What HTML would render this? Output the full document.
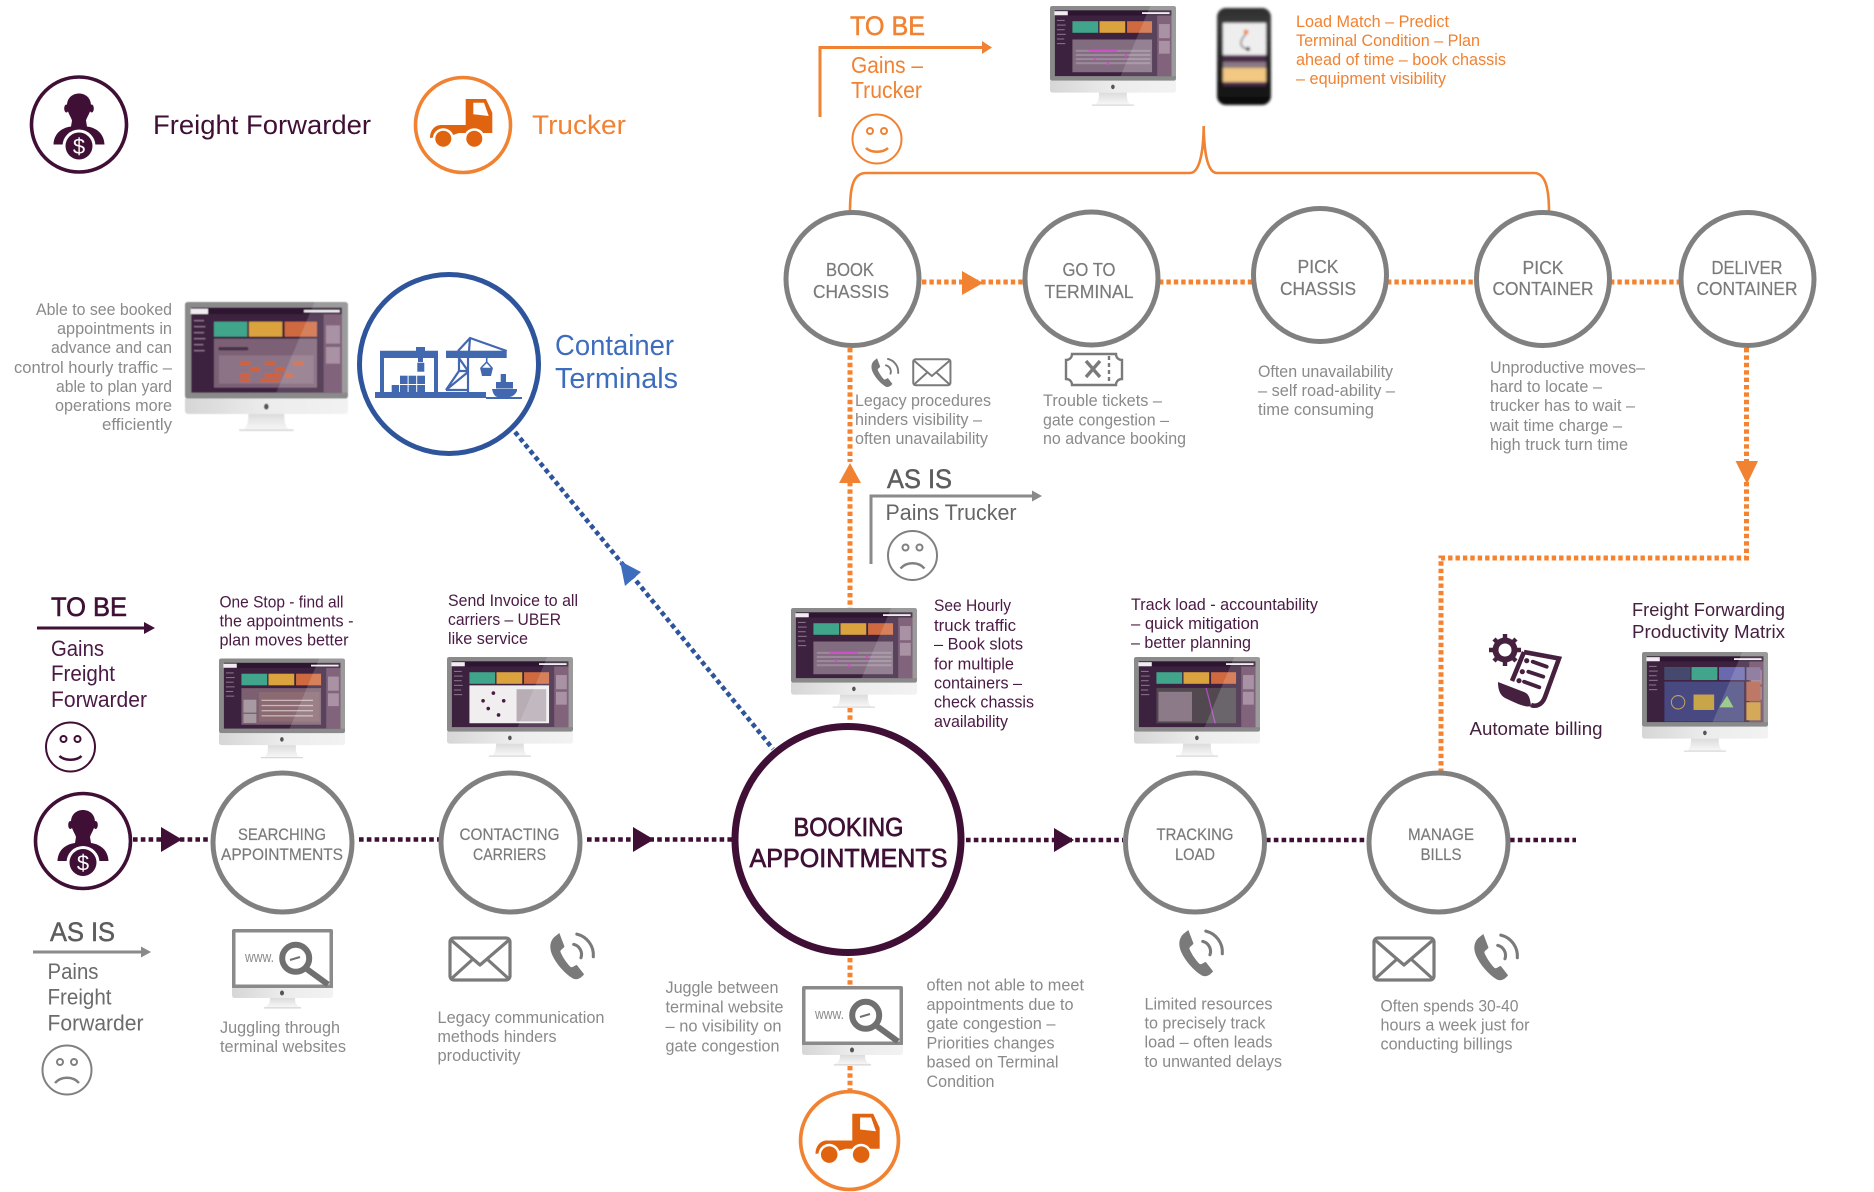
<!DOCTYPE html>
<html lang="en">
<head>
<meta charset="utf-8">
<title>Booking Appointments Journey</title>
<style>
html,body{margin:0;padding:0;background:#fff;width:1874px;height:1192px;overflow:hidden}
svg{display:block}
text{font-family:"Liberation Sans",sans-serif}
.g{fill:#8a8a8a;font-size:16.5px}
.p{fill:#4a1a44;font-size:16.5px}
.o{fill:#f08232;font-size:16.5px}
.n{fill:#7a7a7a;font-size:18.5px;text-anchor:middle;stroke:#7a7a7a;stroke-width:.2}
.n2{fill:#7a7a7a;font-size:17px;text-anchor:middle;stroke:#7a7a7a;stroke-width:.2}
.ring{fill:#fff;stroke:#808080;stroke-width:5}
.dp{fill:none;stroke:#3f0f35;stroke-width:4.6;stroke-dasharray:4.6 3.2}
.do{fill:none;stroke:#f5822f;stroke-width:5;stroke-dasharray:4.4 3}
.fa{fill:none;stroke:#f08232}
</style>
</head>
<body>
<svg width="1874" height="1192" viewBox="0 0 1874 1192" xmlns="http://www.w3.org/2000/svg">
<defs>
  <filter id="soft" x="-5%" y="-5%" width="110%" height="110%"><feGaussianBlur stdDeviation="1.3"/></filter>
  <linearGradient id="chin" x1="0" x2="1" y1="0" y2="0"><stop offset="0" stop-color="#d6d6d6"/><stop offset=".5" stop-color="#ececec"/><stop offset="1" stop-color="#f2f2f2"/></linearGradient>
  <linearGradient id="stand" x1="0" x2="0" y1="0" y2="1"><stop offset="0" stop-color="#dcdcdc"/><stop offset="1" stop-color="#f6f6f6"/></linearGradient>
  <linearGradient id="ph" x1="0" x2="0" y1="0" y2="1"><stop offset="0" stop-color="#2c2c2c"/><stop offset=".15" stop-color="#3a3a3a"/><stop offset="1" stop-color="#0d0d0d"/></linearGradient>
  <g id="mon">
    <rect x="0" y="0" width="489" height="290" rx="8" fill="#8a8a8a"/>
    <path d="M0 290H489V326Q489 336 479 336H10Q0 336 0 326Z" fill="url(#chin)"/>
    <path d="M190 336H298C298 360 300 372 312 382H176C188 372 190 360 190 336Z" fill="url(#stand)"/>
    <rect x="162" y="382" width="164" height="5" rx="2" fill="#d8d8d8"/>
    <ellipse cx="244" cy="314" rx="7" ry="9" fill="#555"/>
    <rect x="19" y="17" width="452" height="255" fill="#3d2240"/>
    <rect x="19" y="17" width="452" height="20" fill="#2e1831"/>
    <rect x="416" y="37" width="55" height="235" fill="#6b4864"/>
    <rect x="17" y="20" width="52" height="16" fill="#f1ecf0"/>
    <rect x="357" y="24" width="107" height="7" fill="#f0eef0"/>
    <rect x="27" y="54" width="30" height="4" fill="#8a7589"/><rect x="27" y="72" width="34" height="4" fill="#8a7589"/><rect x="27" y="90" width="30" height="4" fill="#8a7589"/><rect x="27" y="108" width="34" height="4" fill="#8a7589"/><rect x="27" y="126" width="28" height="4" fill="#8a7589"/><rect x="27" y="144" width="32" height="4" fill="#8a7589"/>
    <rect x="423" y="70" width="42" height="55" fill="#9a7f95"/><rect x="423" y="135" width="42" height="50" fill="#9a7f95"/>
    <rect x="87" y="59" width="100" height="45" fill="#3fa58a"/>
    <rect x="192" y="59" width="100" height="45" fill="#dba33c"/>
    <rect x="299" y="59" width="97" height="45" fill="#cf6a3f"/>
  </g>
  <polygon id="glare" points="389,0 489,0 489,272 274,272" fill="#fff" opacity=".15"/>
  <g id="ff">
    <circle r="47.5" fill="#fff" stroke="#3f0f35" stroke-width="3.6"/>
    <ellipse cx="-12.6" cy="-16" rx="2.2" ry="4" fill="#3f0f35"/><ellipse cx="12.6" cy="-16" rx="2.2" ry="4" fill="#3f0f35"/>
    <path d="M-12-19C-12-27-6-31 0-31C6-31 12-27 12-19C12-12 8-8 7-4L8 2C16 3 25 8 25.5 20H-25.5C-25 8-16 3-8 2L-7-4C-8-8-12-12-12-19Z" fill="#3f0f35"/>
    <circle cy="21.5" r="16.5" fill="#fff"/>
    <circle cy="21.5" r="13.5" fill="#3f0f35"/>
    <text x="0" y="29.5" text-anchor="middle" style="font-size:22px" fill="#fff">$</text>
  </g>
  <g id="truck">
    <circle r="47.5" fill="#fff" stroke="#f08232" stroke-width="3.6"/>
    <path d="M2.7-26H23L29.3-12.3V8H-4L-10 10L-33 13C-33 5-28 0-22 0H2.7Z" fill="#e0640f"/>
    <path d="M10.3-22.3H21L25.7-9L10.3-10.7Z" fill="#fff"/>
    <circle cx="-19.7" cy="13.7" r="10.5" fill="#fff"/><circle cx="11.3" cy="13.7" r="10.5" fill="#fff"/>
    <circle cx="-19.7" cy="13.7" r="8" fill="#e0640f"/><circle cx="11.3" cy="13.7" r="8" fill="#e0640f"/>
  </g>
  <g id="phone">
    <path d="M6 6C2 10 1 16 4 23C8 32 16 41 24 46C28 48 32 46 35 42L28 33C26 33 24 36 22 35C18 31 14 25 12 20C12 18 15 17 16 15L11 2Z" fill="#7a7a7a"/>
    <path d="M25 13A10 10 0 0 1 32 26M28 3A21 21 0 0 1 44 25" fill="none" stroke="#7a7a7a" stroke-width="3" stroke-linecap="round"/>
  </g>
  <g id="mail" fill="none" stroke="#7a7a7a" stroke-width="3.2" stroke-linejoin="round">
    <rect x="2" y="2" width="60" height="42" rx="4"/>
    <path d="M3 4L32 29L61 4M3 43L25 23M61 43L39 23"/>
  </g>
  <g id="www">
    <rect x="0" y="0" width="101" height="60" rx="2" fill="#8a8a8a"/>
    <rect x="3.5" y="3.5" width="94" height="52" fill="#fff"/>
    <path d="M0 59H101V66Q101 69 98 69H3Q0 69 0 66Z" fill="url(#chin)"/>
    <path d="M38 69H63C63 74 64 76 68 78H33C37 76 38 74 38 69Z" fill="url(#stand)"/>
    <rect x="32" y="78" width="37" height="1.6" fill="#ddd"/>
    <ellipse cx="50" cy="64" rx="2" ry="2.5" fill="#555"/>
    <text x="13" y="33" style="font-size:15px" fill="#8a8a8a" textLength="29" lengthAdjust="spacingAndGlyphs">www.</text>
    <path d="M72 38L96 55.5" stroke="#707070" stroke-width="6"/>
    <circle cx="63.7" cy="29.3" r="13.5" fill="#fff" stroke="#707070" stroke-width="6"/>
    <path d="M58 31L68 28" stroke="#707070" stroke-width="2"/>
  </g>
  <g id="smile" fill="none" stroke-width="2">
    <circle r="24.5"/><circle cx="-7" cy="-8" r="3"/><circle cx="7" cy="-8" r="3"/>
    <path d="M-11 9C-6 14 6 14 11 9" stroke-width="2.6"/>
  </g>
  <g id="frown" fill="none" stroke="#808080" stroke-width="2">
    <circle r="24.5"/><circle cx="-7" cy="-8" r="3"/><circle cx="7" cy="-8" r="3"/>
    <path d="M-12 13C-6 6 6 6 12 13" stroke-width="2.4"/>
  </g>
</defs>

<!-- Legend -->
<use href="#ff" transform="translate(79,124.5)"/>
<text x="153" y="134" style="font-size:27px" fill="#3f0f35" textLength="218" lengthAdjust="spacingAndGlyphs">Freight Forwarder</text>
<use href="#truck" transform="translate(463,125)"/>
<text x="532" y="134" style="font-size:27px" fill="#f08232" textLength="94" lengthAdjust="spacingAndGlyphs">Trucker</text>

<!-- Container terminals -->
<g class="g" text-anchor="end">
<text x="172" y="315" textLength="136" lengthAdjust="spacingAndGlyphs">Able to see booked</text>
<text x="172" y="334" textLength="115" lengthAdjust="spacingAndGlyphs">appointments in</text>
<text x="172" y="353" textLength="121" lengthAdjust="spacingAndGlyphs">advance and can</text>
<text x="172" y="373" textLength="158" lengthAdjust="spacingAndGlyphs">control hourly traffic –</text>
<text x="172" y="392" textLength="116" lengthAdjust="spacingAndGlyphs">able to plan yard</text>
<text x="172" y="411" textLength="117" lengthAdjust="spacingAndGlyphs">operations more</text>
<text x="172" y="430" textLength="70" lengthAdjust="spacingAndGlyphs">efficiently</text>
</g>
<g transform="translate(185,302) scale(.3333)" filter="url(#soft)">
  <use href="#mon"/>
  <rect x="87" y="110" width="309" height="147" fill="#7b6074"/>
  <rect x="100" y="135" width="90" height="10" rx="5" fill="#4a3248"/>
  <rect x="102" y="160" width="284" height="85" fill="#8c7385"/>
  <g fill="#d2613a"><rect x="165" y="178" width="30" height="12"/><rect x="240" y="178" width="30" height="12"/><rect x="325" y="178" width="30" height="12"/><rect x="195" y="196" width="30" height="12"/><rect x="270" y="196" width="30" height="12"/><rect x="165" y="214" width="30" height="12"/><rect x="240" y="214" width="50" height="12"/><rect x="300" y="214" width="25" height="12"/><rect x="165" y="230" width="30" height="10"/><rect x="225" y="230" width="60" height="10"/></g>
  <use href="#glare"/>
</g>
<circle cx="449" cy="364" r="89.5" fill="#fff" stroke="#2e549c" stroke-width="5"/>
<g fill="#4268b0">
  <rect x="375" y="392" width="111" height="6"/><rect x="486" y="397" width="36" height="2"/>
  <path d="M380 350.7H438V392H434V358H384V392H380Z"/>
  <rect x="416" y="347" width="9" height="5"/><rect x="418" y="358" width="5" height="4"/><rect x="417.3" y="362.7" width="7" height="9"/>
  <rect x="400" y="375.7" width="7.6" height="8.3"/><rect x="408.6" y="375.7" width="7.6" height="8.3"/><rect x="417.2" y="375.7" width="7.8" height="8.3"/>
  <rect x="391.7" y="385" width="7.4" height="7"/><rect x="400" y="385" width="7.6" height="7"/><rect x="408.6" y="385" width="7.6" height="7"/><rect x="417.2" y="385" width="7.8" height="7"/>
  <rect x="446" y="350.7" width="60.7" height="7.3"/>
  <path d="M480 367.7H493L491 376H482Z"/>
  <path d="M492 389H517V391C515 395 512 397 509 397H498C495 397 493 394 492 389Z"/>
  <rect x="496" y="382" width="17" height="6.5"/><rect x="500.7" y="374" width="5.3" height="8"/>
</g>
<g fill="none" stroke="#4268b0" stroke-width="2.2">
  <path d="M458 351L470 338L506.7 351M470 338L469 351"/>
  <path d="M459 358L468 371M468 358V392M459 358V371L446 390M459 371H468L468 392M446 390H468M446 390L468 372"/>
  <path d="M486.7 358V362M486.7 362L481 368M486.7 362L492 368" stroke-width="1.6"/>
</g>
<text x="555" y="355" style="font-size:29px" fill="#3e6dbe" textLength="119" lengthAdjust="spacingAndGlyphs">Container</text>
<text x="555" y="388" style="font-size:29px" fill="#3e6dbe" textLength="123" lengthAdjust="spacingAndGlyphs">Terminals</text>

<!-- Blue dotted connector -->
<path d="M515 432L773 749" fill="none" stroke="#2e549c" stroke-width="4.6" stroke-dasharray="4.6 3.4"/>
<polygon points="620,561 641,572 625,586" fill="#3e6dbe"/>

<!-- Top TO BE -->
<text x="850" y="35" style="font-size:27px" fill="#f08232" stroke="#f08232" stroke-width=".5" textLength="75" lengthAdjust="spacingAndGlyphs">TO BE</text>
<path d="M820 117V47.5H984" class="fa" stroke-width="3"/>
<polygon points="982,41 992,47.5 982,54" fill="#f08232"/>
<text x="851" y="73" style="font-size:23px" fill="#f08232" textLength="72" lengthAdjust="spacingAndGlyphs">Gains –</text>
<text x="851" y="98" style="font-size:23px" fill="#f08232" textLength="71" lengthAdjust="spacingAndGlyphs">Trucker</text>
<use href="#smile" transform="translate(877,139)" stroke="#f08232"/>

<g transform="translate(1050,6) scale(.2577)" filter="url(#soft)">
  <use href="#mon"/>
  <rect x="87" y="130" width="309" height="127" fill="#826c80"/>
  <rect x="100" y="170" width="290" height="8" fill="#9c8a9b"/><rect x="100" y="186" width="290" height="8" fill="#9c8a9b"/><rect x="100" y="202" width="290" height="8" fill="#9c8a9b"/><rect x="100" y="218" width="290" height="8" fill="#9c8a9b"/>
  <g fill="#d04fc8"><rect x="150" y="170" width="110" height="7"/><rect x="170" y="200" width="10" height="10"/><rect x="290" y="186" width="10" height="10"/><rect x="220" y="218" width="10" height="10"/></g>
  <use href="#glare"/>
</g>
<!-- Phone device -->
<g filter="url(#soft)">
  <rect x="1217" y="8" width="54" height="97" rx="9" fill="url(#ph)"/>
  <rect x="1223" y="23" width="43" height="32" fill="#eeeeee"/>
  <rect x="1223" y="55" width="43" height="7" fill="#4a2a4a"/>
  <rect x="1223" y="62" width="43" height="6" fill="#8a7a82"/>
  <rect x="1223" y="68" width="43" height="14" fill="#f2c883"/>
  <rect x="1223" y="82" width="43" height="4" fill="#4a2a4a"/>
  <path d="M1246 34C1238 42 1240 48 1248 49" fill="none" stroke="#4a2a4a" stroke-width="1.2"/>
  <circle cx="1246" cy="32" r="2.4" fill="#f08232"/><circle cx="1248" cy="49" r="2" fill="#3d2240"/>
</g>
<g class="o">
<text x="1296" y="27" textLength="153" lengthAdjust="spacingAndGlyphs">Load Match – Predict</text>
<text x="1296" y="46" textLength="184" lengthAdjust="spacingAndGlyphs">Terminal Condition – Plan</text>
<text x="1296" y="65" textLength="210" lengthAdjust="spacingAndGlyphs">ahead of time – book chassis</text>
<text x="1296" y="84" textLength="150" lengthAdjust="spacingAndGlyphs">– equipment visibility</text>
</g>
<!-- Brace -->
<path d="M850 212C850 190 852 173 866 173H1190C1200 173 1203.5 150 1203.7 126C1204 150 1207 173 1217 173H1534C1546 173 1549 190 1549 212" class="fa" stroke-width="2.6"/>

<!-- Orange line top row -->
<path class="do" d="M922 282H1024M1159 282H1252M1387 282H1476M1610 282H1680"/>
<polygon points="962,271 983,283 962,295" fill="#f08232"/>
<path class="do" d="M850 348V462M850 482V608M850 708V722M850 958V986M850 1066V1092" stroke-width="4.6"/>
<polygon points="850,463 839,483 861,483" fill="#f08232"/>
<path class="do" d="M1746.5 348V462M1746.5 482V558H1441V772" stroke-width="4.6"/>
<polygon points="1735.5,461 1758,461 1747,484" fill="#f08232"/>

<!-- Top row circles -->
<g>
<circle class="ring" cx="852.5" cy="279" r="66.5"/>
<circle class="ring" cx="1091.5" cy="278.5" r="66.5"/>
<circle class="ring" cx="1320" cy="275" r="66.5"/>
<circle class="ring" cx="1543" cy="279" r="66.5"/>
<circle class="ring" cx="1747.5" cy="279" r="66.5"/>
</g>
<text class="n" x="850" y="276" textLength="48" lengthAdjust="spacingAndGlyphs">BOOK</text>
<text class="n" x="851" y="298" textLength="76" lengthAdjust="spacingAndGlyphs">CHASSIS</text>
<text class="n" x="1089" y="276" textLength="53" lengthAdjust="spacingAndGlyphs">GO TO</text>
<text class="n" x="1089" y="298" textLength="89" lengthAdjust="spacingAndGlyphs">TERMINAL</text>
<text class="n" x="1318" y="273" textLength="41" lengthAdjust="spacingAndGlyphs">PICK</text>
<text class="n" x="1318" y="295" textLength="76" lengthAdjust="spacingAndGlyphs">CHASSIS</text>
<text class="n" x="1543" y="274" textLength="41" lengthAdjust="spacingAndGlyphs">PICK</text>
<text class="n" x="1543" y="295" textLength="101" lengthAdjust="spacingAndGlyphs">CONTAINER</text>
<text class="n" x="1747" y="274" textLength="71" lengthAdjust="spacingAndGlyphs">DELIVER</text>
<text class="n" x="1747" y="295" textLength="101" lengthAdjust="spacingAndGlyphs">CONTAINER</text>

<!-- Top row details -->
<use href="#phone" transform="translate(870,357) scale(.64)"/>
<use href="#mail" transform="translate(912,358) scale(.62)"/>
<g fill="#fff" stroke="#7a7a7a" stroke-width="2.4">
  <path d="M1072 354H1116C1116 358 1119 360 1122 360V379C1119 379 1116 381 1116 385H1072C1072 381 1069 379 1066 379V360C1069 360 1072 358 1072 354Z"/>
  <path d="M1109 356V384" stroke-dasharray="4 3" fill="none"/>
  <path d="M1086 361L1100 377M1100 361L1086 377" stroke-width="3.4" fill="none"/>
</g>
<g class="g">
<text x="855" y="406" textLength="136" lengthAdjust="spacingAndGlyphs">Legacy procedures</text>
<text x="855" y="425" textLength="127" lengthAdjust="spacingAndGlyphs">hinders visibility –</text>
<text x="855" y="444" textLength="133" lengthAdjust="spacingAndGlyphs">often unavailability</text>
<text x="1043" y="406" textLength="119" lengthAdjust="spacingAndGlyphs">Trouble tickets –</text>
<text x="1043" y="425.5" textLength="126" lengthAdjust="spacingAndGlyphs">gate congestion –</text>
<text x="1043" y="444" textLength="143" lengthAdjust="spacingAndGlyphs">no advance booking</text>
<text x="1258" y="377" textLength="135" lengthAdjust="spacingAndGlyphs">Often unavailability</text>
<text x="1258" y="396" textLength="137" lengthAdjust="spacingAndGlyphs">– self road-ability –</text>
<text x="1258" y="415" textLength="116" lengthAdjust="spacingAndGlyphs">time consuming</text>
<text x="1490" y="373" textLength="155" lengthAdjust="spacingAndGlyphs">Unproductive moves–</text>
<text x="1490" y="392" textLength="112" lengthAdjust="spacingAndGlyphs">hard to locate –</text>
<text x="1490" y="411" textLength="145" lengthAdjust="spacingAndGlyphs">trucker has to wait –</text>
<text x="1490" y="431" textLength="132" lengthAdjust="spacingAndGlyphs">wait time charge –</text>
<text x="1490" y="450" textLength="138" lengthAdjust="spacingAndGlyphs">high truck turn time</text>
</g>

<!-- Middle AS IS -->
<text x="887" y="488" style="font-size:27px" fill="#5d5d5d" stroke="#5d5d5d" stroke-width=".5" textLength="65" lengthAdjust="spacingAndGlyphs">AS IS</text>
<path d="M871 564V496H1034" fill="none" stroke="#8a8a8a" stroke-width="3"/>
<polygon points="1032,490.5 1042,496 1032,501.5" fill="#8a8a8a"/>
<text x="885.5" y="520" style="font-size:22px" fill="#666" textLength="131" lengthAdjust="spacingAndGlyphs">Pains Trucker</text>
<use href="#frown" transform="translate(912.5,555.5)"/>

<!-- Left labels -->
<text x="51" y="616" style="font-size:27px" fill="#3f0f35" stroke="#3f0f35" stroke-width=".6" textLength="76" lengthAdjust="spacingAndGlyphs">TO BE</text>
<path d="M37 628H146" stroke="#3f0f35" stroke-width="3"/>
<polygon points="144,622 155,628 144,634" fill="#3f0f35"/>
<g style="font-size:22px" fill="#4a1a44">
<text x="51" y="656" textLength="53" lengthAdjust="spacingAndGlyphs">Gains</text>
<text x="51" y="681" textLength="64" lengthAdjust="spacingAndGlyphs">Freight</text>
<text x="51" y="707" textLength="96" lengthAdjust="spacingAndGlyphs">Forwarder</text>
</g>
<use href="#smile" transform="translate(70.5,747)" stroke="#3f0f35"/>
<use href="#ff" transform="translate(83,841)"/>
<text x="50" y="941" style="font-size:27px" fill="#5d5d5d" stroke="#5d5d5d" stroke-width=".5" textLength="65" lengthAdjust="spacingAndGlyphs">AS IS</text>
<path d="M33 952H143" stroke="#8a8a8a" stroke-width="3"/>
<polygon points="141,946.5 151,952 141,957.5" fill="#8a8a8a"/>
<g style="font-size:22px" fill="#6b6b6b">
<text x="47.5" y="979" textLength="51" lengthAdjust="spacingAndGlyphs">Pains</text>
<text x="47.5" y="1004.5" textLength="64" lengthAdjust="spacingAndGlyphs">Freight</text>
<text x="47.5" y="1030.5" textLength="96" lengthAdjust="spacingAndGlyphs">Forwarder</text>
</g>
<use href="#frown" transform="translate(67,1070)"/>

<!-- Main row line -->
<path class="dp" d="M133 839.5H211M359 839.5H439M587 839.5H732M966 840H1123M1266 840H1367M1510 840H1576"/>
<polygon points="161,827 182,839.5 161,852" fill="#3f0f35"/>
<polygon points="633,827 654,839.5 633,852" fill="#3f0f35"/>
<polygon points="1054,828 1074,840 1054,852" fill="#3f0f35"/>

<!-- Main row circles -->
<circle class="ring" cx="282.5" cy="842.5" r="69.5"/>
<circle class="ring" cx="510.5" cy="842.5" r="69.5"/>
<circle cx="848" cy="839.5" r="113" fill="#fff" stroke="#3f0f35" stroke-width="7"/>
<circle class="ring" cx="1195" cy="842.5" r="69.5"/>
<circle class="ring" cx="1438.5" cy="842.5" r="69.5"/>
<text class="n2" x="282" y="840" textLength="88" lengthAdjust="spacingAndGlyphs">SEARCHING</text>
<text class="n2" x="282" y="860" textLength="122" lengthAdjust="spacingAndGlyphs">APPOINTMENTS</text>
<text class="n2" x="509.5" y="840" textLength="100" lengthAdjust="spacingAndGlyphs">CONTACTING</text>
<text class="n2" x="509.5" y="860" textLength="73" lengthAdjust="spacingAndGlyphs">CARRIERS</text>
<text x="848.5" y="836" text-anchor="middle" style="font-size:26px" fill="#3f0f35" stroke="#3f0f35" stroke-width=".7" textLength="110" lengthAdjust="spacingAndGlyphs">BOOKING</text>
<text x="848.5" y="867" text-anchor="middle" style="font-size:26px" fill="#3f0f35" stroke="#3f0f35" stroke-width=".7" textLength="198" lengthAdjust="spacingAndGlyphs">APPOINTMENTS</text>
<text class="n2" x="1195" y="840" textLength="77" lengthAdjust="spacingAndGlyphs">TRACKING</text>
<text class="n2" x="1195" y="860" textLength="40" lengthAdjust="spacingAndGlyphs">LOAD</text>
<text class="n2" x="1441" y="840" textLength="66" lengthAdjust="spacingAndGlyphs">MANAGE</text>
<text class="n2" x="1441" y="860" textLength="41" lengthAdjust="spacingAndGlyphs">BILLS</text>

<!-- Upper captions -->
<g class="p">
<text x="219.5" y="607.5" textLength="124" lengthAdjust="spacingAndGlyphs">One Stop - find all</text>
<text x="219.5" y="626.5" textLength="134" lengthAdjust="spacingAndGlyphs">the appointments -</text>
<text x="219.5" y="645.5" textLength="129" lengthAdjust="spacingAndGlyphs">plan moves better</text>
<text x="448" y="606" textLength="130" lengthAdjust="spacingAndGlyphs">Send Invoice to all</text>
<text x="448" y="625" textLength="113" lengthAdjust="spacingAndGlyphs">carriers – UBER</text>
<text x="448" y="644" textLength="80" lengthAdjust="spacingAndGlyphs">like service</text>
<text x="934" y="611" textLength="77" lengthAdjust="spacingAndGlyphs">See Hourly</text>
<text x="934" y="631" textLength="82" lengthAdjust="spacingAndGlyphs">truck traffic</text>
<text x="934" y="649.5" textLength="89" lengthAdjust="spacingAndGlyphs">– Book slots</text>
<text x="934" y="669.5" textLength="80" lengthAdjust="spacingAndGlyphs">for multiple</text>
<text x="934" y="688.5" textLength="88" lengthAdjust="spacingAndGlyphs">containers –</text>
<text x="934" y="707.5" textLength="100" lengthAdjust="spacingAndGlyphs">check chassis</text>
<text x="934" y="727" textLength="74" lengthAdjust="spacingAndGlyphs">availability</text>
<text x="1131" y="610" textLength="187" lengthAdjust="spacingAndGlyphs">Track load - accountability</text>
<text x="1131" y="629" textLength="128" lengthAdjust="spacingAndGlyphs">– quick mitigation</text>
<text x="1131" y="648" textLength="120" lengthAdjust="spacingAndGlyphs">– better planning</text>
</g>

<!-- Monitors -->
<g transform="translate(219,658.5) scale(.2577)" filter="url(#soft)">
  <use href="#mon"/>
  <rect x="87" y="115" width="309" height="142" fill="#7b5f6f"/>
  <rect x="95" y="160" width="50" height="50" fill="#a79aa3"/><rect x="95" y="215" width="50" height="35" fill="#a79aa3"/>
  <rect x="155" y="130" width="235" height="115" fill="#8b6a72"/>
  <g fill="#c8b8bb"><rect x="165" y="160" width="200" height="5"/><rect x="165" y="180" width="200" height="5"/><rect x="165" y="200" width="200" height="5"/><rect x="165" y="220" width="200" height="5"/></g>
  <use href="#glare"/>
</g>
<g transform="translate(447,657) scale(.2577)" filter="url(#soft)">
  <use href="#mon"/>
  <rect x="87" y="110" width="309" height="147" fill="#f0eeee"/>
  <rect x="270" y="125" width="115" height="125" fill="#b8acb5"/>
  <g fill="#4a1a44"><circle cx="140" cy="170" r="7"/><circle cx="180" cy="140" r="7"/><circle cx="160" cy="200" r="7"/><circle cx="220" cy="170" r="7"/><circle cx="200" cy="225" r="7"/></g>
  <use href="#glare"/>
</g>
<g transform="translate(791,608) scale(.2577)" filter="url(#soft)">
  <use href="#mon"/>
  <rect x="87" y="130" width="309" height="127" fill="#826c80"/>
  <rect x="100" y="170" width="290" height="8" fill="#9c8a9b"/><rect x="100" y="186" width="290" height="8" fill="#9c8a9b"/><rect x="100" y="202" width="290" height="8" fill="#9c8a9b"/><rect x="100" y="218" width="290" height="8" fill="#9c8a9b"/>
  <g fill="#d04fc8"><rect x="150" y="170" width="110" height="7"/><rect x="170" y="200" width="10" height="10"/><rect x="290" y="186" width="10" height="10"/><rect x="220" y="218" width="10" height="10"/></g>
  <use href="#glare"/>
</g>
<g transform="translate(1134,657) scale(.2577)" filter="url(#soft)">
  <use href="#mon"/>
  <rect x="87" y="120" width="309" height="137" fill="#514a50"/>
  <rect x="95" y="135" width="130" height="115" fill="#8c7a88"/>
  <path d="M280 120L315 257" stroke="#b04bc0" stroke-width="5"/>
  <use href="#glare"/>
</g>
<g transform="translate(1642,652) scale(.2577)" filter="url(#soft)">
  <use href="#mon"/>
  <rect x="87" y="59" width="100" height="50" fill="#45486e"/>
  <rect x="192" y="59" width="100" height="50" fill="#3fa58a"/>
  <rect x="299" y="59" width="100" height="50" fill="#6a69b0"/>
  <rect x="405" y="59" width="55" height="50" fill="#7f6a93"/>
  <rect x="87" y="115" width="309" height="155" fill="#4a4a82"/>
  <rect x="405" y="115" width="55" height="75" fill="#b3624c"/>
  <rect x="405" y="195" width="55" height="70" fill="#cf9a3c"/>
  <rect x="200" y="165" width="80" height="60" fill="#c9a54a"/>
  <polygon points="300,215 330,170 355,215" fill="#8cc37a"/>
  <circle cx="140" cy="195" r="26" fill="none" stroke="#c0a060" stroke-width="4"/>
  <use href="#glare"/>
</g>

<!-- Lower detail -->
<use href="#www" transform="translate(232,929)"/>
<use href="#www" transform="translate(802,986)"/>
<use href="#mail" transform="translate(448,936)"/>
<use href="#phone" transform="translate(548,931) scale(1.03)"/>
<use href="#phone" transform="translate(1177,928) scale(1.03)"/>
<use href="#mail" transform="translate(1372,936)"/>
<use href="#phone" transform="translate(1472,932) scale(1.03)"/>
<use href="#truck" transform="translate(849.5,1140.5) scale(1.03)"/>

<g class="g">
<text x="220" y="1033" textLength="120" lengthAdjust="spacingAndGlyphs">Juggling through</text>
<text x="220" y="1052" textLength="126" lengthAdjust="spacingAndGlyphs">terminal websites</text>
<text x="437.5" y="1023" textLength="167" lengthAdjust="spacingAndGlyphs">Legacy communication</text>
<text x="437.5" y="1042" textLength="119" lengthAdjust="spacingAndGlyphs">methods hinders</text>
<text x="437.5" y="1061" textLength="83" lengthAdjust="spacingAndGlyphs">productivity</text>
<text x="665.5" y="993" textLength="113" lengthAdjust="spacingAndGlyphs">Juggle between</text>
<text x="665.5" y="1012.5" textLength="118" lengthAdjust="spacingAndGlyphs">terminal website</text>
<text x="665.5" y="1031.5" textLength="116" lengthAdjust="spacingAndGlyphs">– no visibility on</text>
<text x="665.5" y="1051.5" textLength="114" lengthAdjust="spacingAndGlyphs">gate congestion</text>
<text x="926.5" y="990.5" textLength="157.5" lengthAdjust="spacingAndGlyphs">often not able to meet</text>
<text x="926.5" y="1010" textLength="147" lengthAdjust="spacingAndGlyphs">appointments due to</text>
<text x="926.5" y="1029" textLength="129" lengthAdjust="spacingAndGlyphs">gate congestion –</text>
<text x="926.5" y="1048.5" textLength="128" lengthAdjust="spacingAndGlyphs">Priorities changes</text>
<text x="926.5" y="1067.5" textLength="132" lengthAdjust="spacingAndGlyphs">based on Terminal</text>
<text x="926.5" y="1087" textLength="68" lengthAdjust="spacingAndGlyphs">Condition</text>
<text x="1144.5" y="1009.5" textLength="128" lengthAdjust="spacingAndGlyphs">Limited resources</text>
<text x="1144.5" y="1028.5" textLength="121" lengthAdjust="spacingAndGlyphs">to precisely track</text>
<text x="1144.5" y="1047.5" textLength="128" lengthAdjust="spacingAndGlyphs">load – often leads</text>
<text x="1144.5" y="1067" textLength="137.5" lengthAdjust="spacingAndGlyphs">to unwanted delays</text>
<text x="1380.5" y="1011.5" textLength="138" lengthAdjust="spacingAndGlyphs">Often spends 30-40</text>
<text x="1380.5" y="1030.5" textLength="149" lengthAdjust="spacingAndGlyphs">hours a week just for</text>
<text x="1380.5" y="1049.5" textLength="132" lengthAdjust="spacingAndGlyphs">conducting billings</text>
</g>

<!-- Billing -->
<g fill="#46203f">
  <g stroke="#46203f" stroke-width="4.4"><path d="M1505 634V666M1489 650H1521M1494 639L1516 661M1516 639L1494 661"/></g>
  <circle cx="1505" cy="650" r="12.5"/>
  <circle cx="1505" cy="650" r="6.5" fill="#fff"/>
  <path d="M1524 652L1559 658.5L1545 697C1542 705 1536 707 1531 705M1524 652L1512 681" fill="none" stroke="#46203f" stroke-width="4.6"/>
  <path d="M1498 682L1524 692C1529 694 1530 698 1531 706C1526 708 1518 704 1505 698C1500 695 1498 690 1498 682Z"/>
  <circle cx="1526.7" cy="660.7" r="2.6"/><circle cx="1522.3" cy="671.7" r="2.6"/><circle cx="1519" cy="680.7" r="2.6"/>
  <path d="M1532.7 661.7L1546.7 666.7M1528.3 671.7L1543.3 676.7M1524 681.7L1539.3 687.3" stroke="#46203f" stroke-width="3.8" stroke-linecap="round"/>
</g>
<text x="1469.5" y="735" style="font-size:18px" fill="#46203f" textLength="133" lengthAdjust="spacingAndGlyphs">Automate billing</text>
<text x="1632" y="616" style="font-size:18px" fill="#46203f" textLength="153" lengthAdjust="spacingAndGlyphs">Freight Forwarding</text>
<text x="1632" y="638" style="font-size:18px" fill="#46203f" textLength="153" lengthAdjust="spacingAndGlyphs">Productivity Matrix</text>
</svg>
</body>
</html>
